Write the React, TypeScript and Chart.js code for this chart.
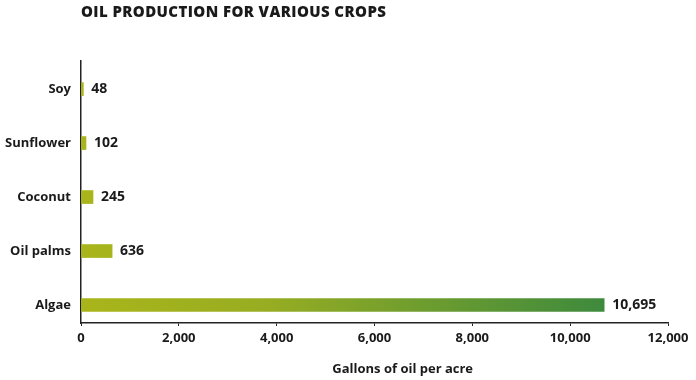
import React, { useEffect, useRef } from "react";
import { Chart, registerables } from "chart.js";

Chart.register(...registerables);

const chartTitle = "OIL PRODUCTION FOR VARIOUS CROPS";
const axisTitle = "Gallons of oil per acre";
const crops = ["Algae", "Oil palms", "Coconut", "Sunflower", "Soy"];
const gallons = [10695, 636, 245, 102, 48];
const xTicks = [0, 2000, 4000, 6000, 8000, 10000, 12000];

const FONT = "'Open Sans', 'Noto Sans', sans-serif";
const TEXT = "#1a1a1a";

export default function App() {
  const ref = useRef<HTMLCanvasElement>(null);
  useEffect(() => {
    const canvas = ref.current!;
    const textPlugin = {
      id: "texts",
      afterDatasetsDraw(chart: any) {
        const { ctx, chartArea } = chart;
        ctx.save();
        ctx.fillStyle = TEXT;
        ctx.textBaseline = "middle";
        ctx.textAlign = "left";
        ctx.font = `bold 14px ${FONT}`;
        const meta = chart.getDatasetMeta(0);
        meta.data.forEach((bar: any, i: number) => {
          ctx.fillText(gallons[i].toLocaleString("en-US"), bar.x + 8, bar.y);
        });
        ctx.font = `800 15px ${FONT}`;
        (ctx as any).letterSpacing = "0.4px";
        ctx.fillText(chartTitle, chartArea.left, 13);
        (ctx as any).letterSpacing = "0px";
        ctx.font = `bold 13px ${FONT}`;
        ctx.textAlign = "center";
        ctx.fillText(axisTitle, chartArea.left + (chartArea.right - chartArea.left) * 0.548, 369);
        ctx.restore();
      },
    };
    const chart = new Chart(canvas, {
      type: "bar",
      data: {
        datasets: [
          {
            data: crops.map((_, i) => ({ x: gallons[i], y: i })),
            backgroundColor: (c: any) => {
              const area = c.chart.chartArea;
              if (!area) return "#a8b41a";
              const xs = c.chart.scales.x;
              const g = c.chart.ctx.createLinearGradient(xs.getPixelForValue(0), 0, xs.getPixelForValue(gallons[0]), 0);
              g.addColorStop(0, "#a9b51a");
              g.addColorStop(0.35, "#98ad22");
              g.addColorStop(1, "#3e8a3d");
              return g;
            },
            barThickness: 13,
            borderWidth: 0,
          },
        ],
      },
      options: {
        indexAxis: "y",
        responsive: false,
        animation: false,
        layout: { padding: { left: 0, right: 28, top: 61, bottom: 0 } },
        plugins: { legend: { display: false }, tooltip: { enabled: false }, title: { display: false } },
        scales: {
          x: {
            type: "linear",
            min: 0,
            max: 12000,
            afterBuildTicks: (axis: any) => {
              axis.ticks = xTicks.map((v) => ({ value: v }));
            },
            afterFit: (axis: any) => {
              axis.height = 57;
            },
            grid: { display: true, drawOnChartArea: false, drawTicks: true, tickLength: 3, color: "#222" },
            border: { display: true, color: "#222", width: 1.5 },
            ticks: {
              padding: 4,
              color: TEXT,
              font: { family: FONT, weight: "bold", size: 13 },
              maxRotation: 0,
              callback: (v: any) => Number(v).toLocaleString("en-US"),
            },
          },
          y: {
            type: "linear",
            offset: false,
            min: -0.333,
            max: 4.52,
            afterBuildTicks: (axis: any) => {
              axis.ticks = crops.map((_, i) => ({ value: i }));
            },
            afterFit: (axis: any) => {
              axis.width = 81;
            },
            grid: { display: false, drawTicks: false, tickLength: 0 },
            border: { display: true, color: "#222", width: 1.5 },
            ticks: {
              padding: 10,
              color: TEXT,
              font: { family: FONT, weight: "bold", size: 13 },
              callback: (v: any) => crops[v] ?? "",
            },
          },
        },
      },
      plugins: [textPlugin],
    } as any);
    return () => chart.destroy();
  }, []);
  return (
    <div style={{ position: "fixed", left: 0, top: 0, width: 696, height: 380, background: "#fff" }}>
      <canvas ref={ref} width={696} height={380} />
    </div>
  );
}
